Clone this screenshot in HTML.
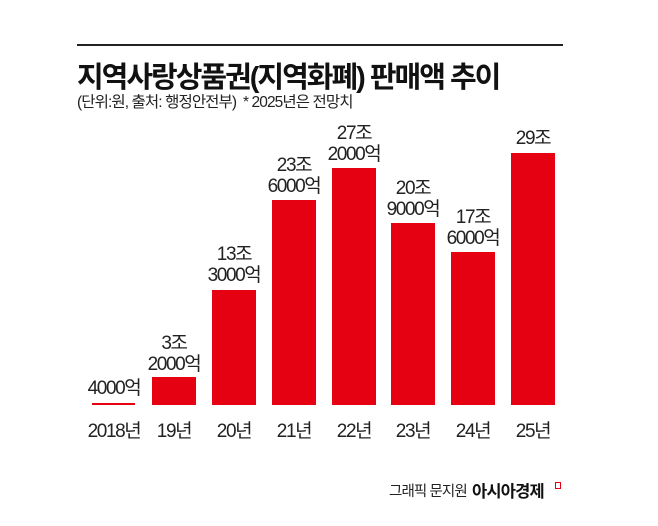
<!DOCTYPE html>
<html><head><meta charset="utf-8"><style>
body{margin:0;width:658px;height:526px;background:#fff;position:relative;overflow:hidden;font-family:"Liberation Sans","Noto Sans CJK KR",sans-serif;color:#222}
.a{position:absolute}
.bar{position:absolute;background:#e50012;bottom:121px;width:44px}
.lb{position:absolute;width:90px;text-align:center;font-size:19px;line-height:21px;letter-spacing:-1.4px;color:#222}
.xl{position:absolute;top:416px;width:80px;text-align:center;font-size:19px;letter-spacing:-1.4px}
</style></head><body>
<div class="a" style="left:77px;top:44px;width:486px;height:2px;background:#222"></div>
<div class="a" style="left:77px;top:54px;font-size:29px;font-weight:bold;letter-spacing:-2px;white-space:nowrap;color:#111">지역사랑상품권(지역화폐) 판매액 추이</div>
<div class="a" style="left:77px;top:90px;font-size:15.5px;letter-spacing:-0.9px;white-space:nowrap">(단위:원, 출처: 행정안전부) &nbsp;* 2025년은 전망치</div>

<div class="a" style="left:92px;top:403px;width:43px;height:2px;background:#e50012"></div>
<div class="lb" style="left:69px;top:378px">4000억</div>
<div class="bar" style="left:152px;height:28px"></div>
<div class="lb" style="left:129px;top:333px">3조<br>2000억</div>
<div class="bar" style="left:212px;height:115px"></div>
<div class="lb" style="left:189px;top:244px">13조<br>3000억</div>
<div class="bar" style="left:272px;height:205px"></div>
<div class="lb" style="left:249px;top:155px">23조<br>6000억</div>
<div class="bar" style="left:332px;height:237px"></div>
<div class="lb" style="left:309px;top:123px">27조<br>2000억</div>
<div class="bar" style="left:391px;height:182px"></div>
<div class="lb" style="left:368px;top:178px">20조<br>9000억</div>
<div class="bar" style="left:451px;height:153px"></div>
<div class="lb" style="left:428px;top:207px">17조<br>6000억</div>
<div class="bar" style="left:511px;height:252px"></div>
<div class="lb" style="left:488px;top:128px">29조</div>

<div class="xl" style="left:74px">2018년</div>
<div class="xl" style="left:134px">19년</div>
<div class="xl" style="left:194px">20년</div>
<div class="xl" style="left:254px">21년</div>
<div class="xl" style="left:314px">22년</div>
<div class="xl" style="left:373px">23년</div>
<div class="xl" style="left:433px">24년</div>
<div class="xl" style="left:493px">25년</div>

<div class="a" style="left:389px;top:480px;font-size:14.5px;letter-spacing:-0.9px;white-space:nowrap">그래픽 문지원</div>
<div class="a" style="left:472px;top:478px;font-size:16.5px;font-weight:bold;letter-spacing:-0.8px;white-space:nowrap;color:#111">아시아경제</div>
<div class="a" style="left:555px;top:482px;width:4px;height:5px;border:1.5px solid #e50012"></div>
</body></html>
